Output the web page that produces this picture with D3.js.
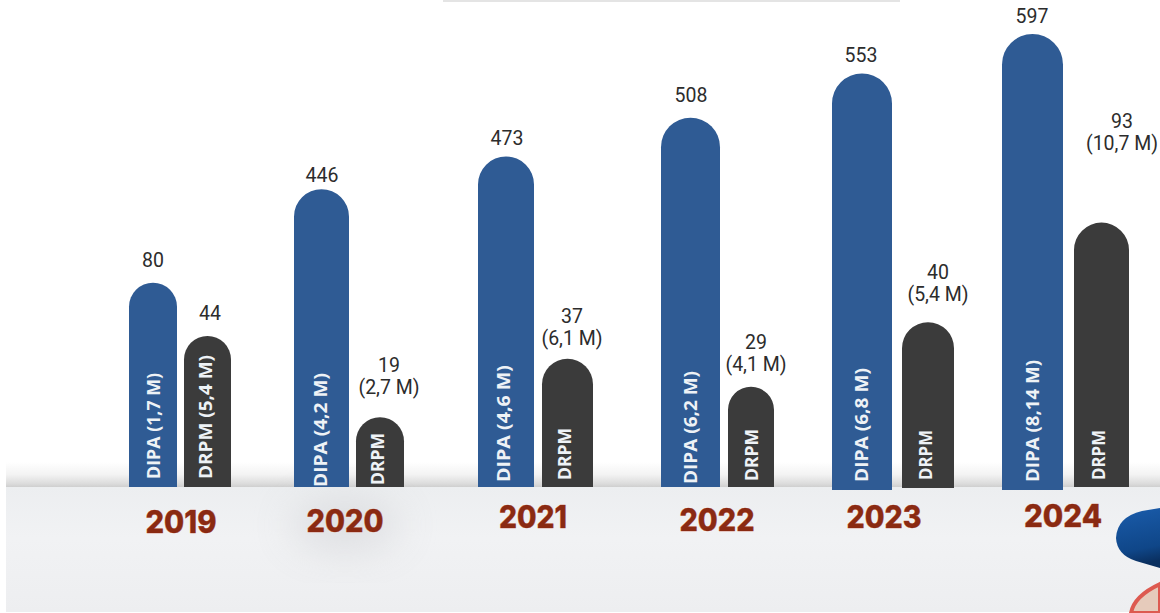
<!DOCTYPE html>
<html><head><meta charset="utf-8">
<script src="https://cdn.jsdelivr.net/npm/d3@7"></script>
<style>html,body{margin:0;padding:0;background:#fff}svg{display:block}</style>
</head><body><svg id="c" width="1160" height="613"></svg>
<script>
// ---- data ----
const years = ["2019","2020","2021","2022","2023","2024"];
// printed values
const dipaValues = [80,446,473,508,553,597];
const drpmValues = [44,19,37,29,40,93];
const drpmAmounts = ["","(2,7 M)","(6,1 M)","(4,1 M)","(5,4 M)","(10,7 M)"];
// bar labels
const dipaLabels = ["DIPA (1,7 M)","DIPA (4,2 M)","DIPA (4,6 M)","DIPA (6,2 M)","DIPA (6,8 M)","DIPA (8,14 M)"];
const drpmLabels = ["DRPM (5,4 M)","DRPM","DRPM","DRPM","DRPM","DRPM"];
// the infographic is not to scale: drawn heights, read on a common axis whose top is the 597 bar
const dipaDrawn = [270,393,436,487,545,597];
const drpmDrawn = [200,93,170,133,218,349];

// ---- layout ----
const W=1160,H=613,floorY=487;
const y=d3.scaleLinear().domain([0,597]).range([488,34]);
const xs=(vals)=>d3.scaleOrdinal().domain(years).range(vals);
const L={
 dipa:{x0:xs([129,294,478,661,832,1002]),w:xs([48,55,56,59,60,61]),bottom:xs([487,487,487,487,490,490]),
   textX:xs([153,320,503,690,861,1032]),textStart:xs([479,487,482,484,482,482]),textLen:xs([106,114,117,113,114,122]),
   labelX:xs([153,322,507,691,861,1032]),gap:xs([23,15,19,23,19,19]),fill:"#2f5b94"},
 drpm:{x0:xs([184,356,542,728,902,1074]),w:xs([47,48,51,46,52,55]),bottom:xs([487,487,487,487,488,487]),
   textX:xs([205,377,564,751,925,1098]),textStart:xs([479,485,480,481,480,480]),textLen:xs([124,52,52,52,50,50]),
   labelX:xs([210,389,572,756,938,1122]),gap:xs([23,31,21,23,29,80]),fill:"#3b3b3b"}
};
const yearX=xs([181,345,533,717,884,1063]), yearY=xs([521,520,516,519,516,515]), yearLen=xs([71,77,68,75,75,78]);

const svg=d3.select("#c");
const defs=svg.append("defs");
const g1=defs.append("linearGradient").attr("id","wall").attr("x1",0).attr("x2",0).attr("y1",0).attr("y2",1);
g1.append("stop").attr("offset",0).attr("stop-color","#fff");
g1.append("stop").attr("offset",.5).attr("stop-color","#f3f3f3");
g1.append("stop").attr("offset",.85).attr("stop-color","#dddddd");
g1.append("stop").attr("offset",1).attr("stop-color","#cfcfcf");
const g2=defs.append("linearGradient").attr("id","floor").attr("x1",0).attr("x2",0).attr("y1",0).attr("y2",1);
g2.append("stop").attr("offset",0).attr("stop-color","#eceef0");
g2.append("stop").attr("offset",.4).attr("stop-color","#f1f2f4");
g2.append("stop").attr("offset",1).attr("stop-color","#edeef0");
const g3=defs.append("linearGradient").attr("id","cap").attr("x1",0).attr("x2",0.15).attr("y1",0).attr("y2",1);
g3.append("stop").attr("offset",0).attr("stop-color","#1a5cab");
g3.append("stop").attr("offset",.75).attr("stop-color","#0f4688");
g3.append("stop").attr("offset",1).attr("stop-color","#0a2f5f");
defs.append("filter").attr("id","soft").attr("x","-60%").attr("y","-60%").attr("width","220%").attr("height","220%")
  .append("feGaussianBlur").attr("stdDeviation",20);

svg.append("rect").attr("width",W).attr("height",H).attr("fill","#fff");
// cropped remnant of a heading at the very top edge
svg.append("rect").attr("x",443).attr("y",0).attr("width",457).attr("height",2).attr("fill","#e4e4e4");
svg.append("rect").attr("x",6).attr("y",462).attr("width",W-6).attr("height",floorY-462).attr("fill","url(#wall)");
svg.append("rect").attr("x",6).attr("y",floorY).attr("width",W-6).attr("height",H-floorY-1).attr("fill","url(#floor)");
svg.append("ellipse").attr("cx",345).attr("cy",525).attr("rx",55).attr("ry",26).attr("fill","#c6c7cb").attr("opacity",.45).attr("filter","url(#soft)");

// decorations, bottom-right
svg.append("path").attr("d","M1160 508 L1142 511 Q1117 517 1116 538 Q1117 555 1136 561 L1160 568 Z").attr("fill","url(#cap)");
svg.append("path").attr("d","M1131 613 Q1134 596 1160 584 L1160 613 Z").attr("fill","#e6cbbb").attr("stroke","#dd5a50").attr("stroke-width",4);

function topRounded(x,yt,w,yb){
  const r=w/2,p=d3.path();
  p.moveTo(x,yb);p.lineTo(x,yt+r);p.arc(x+r,yt+r,r,Math.PI,0);p.lineTo(x+w,yb);p.closePath();
  return p.toString();
}
const rows=(key,drawn,vals,labels,amts)=>years.map((yr,i)=>({key,yr,drawn:drawn[i],val:vals[i],label:labels[i],amt:amts?amts[i]:""}));
const all=[...rows("dipa",dipaDrawn,dipaValues,dipaLabels),...rows("drpm",drpmDrawn,drpmValues,drpmLabels,drpmAmounts)];

svg.append("g").selectAll("path").data(all).join("path")
  .attr("d",d=>{const l=L[d.key];return topRounded(l.x0(d.yr),y(d.drawn),l.w(d.yr),l.bottom(d.yr));})
  .attr("fill",d=>L[d.key].fill);

const sans="'Open Sans',sans-serif";
svg.append("g").selectAll("text").data(all).join("text")
  .attr("transform",d=>`translate(${L[d.key].textX(d.yr)},${L[d.key].textStart(d.yr)}) rotate(-90)`)
  .attr("dominant-baseline","central").attr("font-family",sans).attr("font-weight",700).attr("font-size",17.5)
  .attr("fill","#eef2f6").attr("textLength",d=>L[d.key].textLen(d.yr)).attr("lengthAdjust","spacingAndGlyphs")
  .text(d=>d.label);

const lab=svg.append("g").attr("font-family","Roboto,sans-serif").attr("font-size",19.5).attr("fill","#2c2c2c").attr("text-anchor","middle").attr("dominant-baseline","central");
all.forEach(d=>{
  const l=L[d.key],cy=y(d.drawn)-l.gap(d.yr)+1;
  if(d.amt){
    lab.append("text").attr("x",l.labelX(d.yr)).attr("y",cy).text(d.amt);
    lab.append("text").attr("x",l.labelX(d.yr)).attr("y",cy-22).text(d.val);
  } else lab.append("text").attr("x",l.labelX(d.yr)).attr("y",cy).text(d.val);
});

svg.append("g").selectAll("text").data(years).join("text")
  .attr("x",d=>yearX(d)).attr("y",d=>yearY(d)).attr("text-anchor","middle").attr("dominant-baseline","central")
  .attr("font-family","Inter,sans-serif").attr("font-weight",800).attr("font-size",31)
  .attr("textLength",d=>yearLen(d)).attr("lengthAdjust","spacingAndGlyphs")
  .attr("fill","#8a2a12").attr("stroke","#c8603a").attr("stroke-width",.5).attr("paint-order","stroke")
  .text(d=>d);
</script></body></html>
